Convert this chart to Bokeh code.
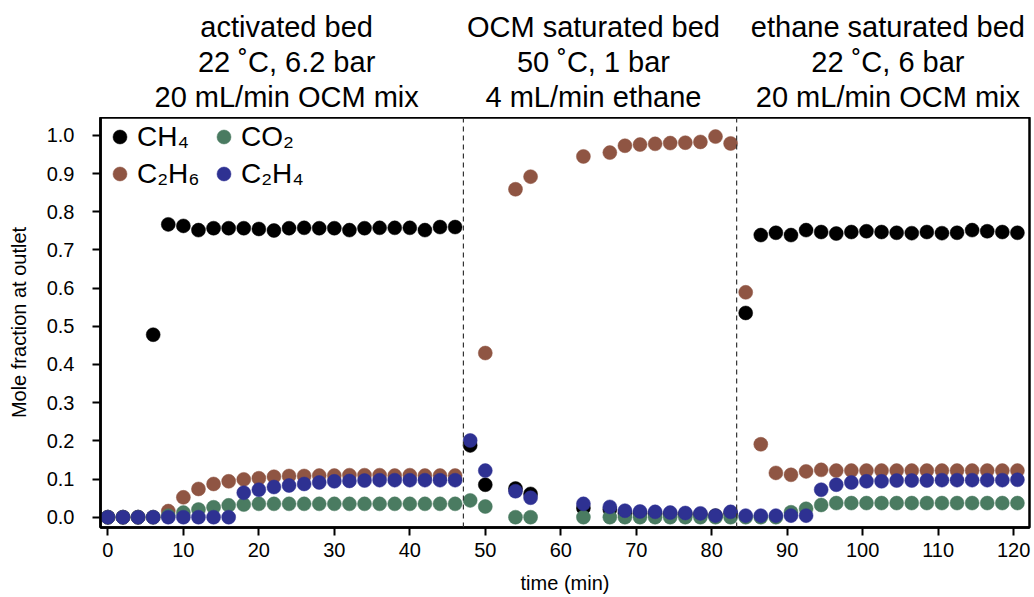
import math
from bokeh.plotting import figure
from bokeh.layouts import column
from bokeh.models import (Range1d, Span, Legend, LegendItem, FixedTicker,
                          PrintfTickFormatter, ColumnDataSource)
from bokeh.core.properties import value
from bokeh.embed import file_html
from bokeh.resources import INLINE

NaN = float("nan")

# ---------------- data ----------------
time_min = ([0, 2, 4, 6, 8, 10, 12, 14, 16, 18, 20, 22, 24, 26, 28, 30, 32, 34, 36, 38, 40, 42, 44, 46]
            + [48, 50, 54, 56, 63, 66.5, 68.5, 70.5, 72.5, 74.5, 76.5, 78.5, 80.5, 82.5]
            + [84.5, 86.5, 88.5, 90.5, 92.5, 94.5, 96.5, 98.5, 100.5, 102.5, 104.5, 106.5,
               108.5, 110.5, 112.5, 114.5, 116.5, 118.5, 120.5])

ch4 = ([0, 0, 0, 0.478, 0.767, 0.763, 0.752, 0.757, 0.757, 0.757, 0.755, 0.751, 0.757, 0.758,
        0.757, 0.757, 0.752, 0.757, 0.758, 0.758, 0.758, 0.752, 0.760, 0.760]
       + [0.188, 0.085, 0.075, 0.061, 0.024, 0.020, 0.010, 0.010, 0.009, 0.008, 0.008, 0.007,
          0.004, 0.010]
       + [0.535, 0.739, 0.745, 0.739, 0.752, 0.747, 0.743, 0.747, 0.749, 0.747, 0.745, 0.744,
          0.747, 0.744, 0.745, 0.752, 0.749, 0.747, 0.745])

c2h6 = ([0, 0, 0, 0, 0.016, 0.052, 0.074, 0.087, 0.094, 0.099, 0.102, 0.106, 0.108, 0.108,
         0.109, 0.109, 0.110, 0.110, 0.110, 0.109, 0.110, 0.109, 0.109, 0.109]
        + [NaN, 0.430, 0.859, 0.892, 0.945, 0.955, 0.973, 0.976, 0.978, 0.980, 0.981, 0.983,
           0.997, 0.979]
        + [0.589, 0.191, 0.116, 0.111, 0.120, 0.124, 0.122, 0.122, 0.122, 0.122, 0.122, 0.122,
           0.122, 0.122, 0.122, 0.122, 0.122, 0.122, 0.122])

co2 = ([0, 0, 0, 0, 0.004, 0.012, 0.020, 0.026, 0.031, 0.033, 0.035, 0.035, 0.035, 0.035,
        0.035, 0.035, 0.035, 0.035, 0.035, 0.035, 0.035, 0.035, 0.035, 0.035]
       + [0.044, 0.028, 0, 0, 0, 0, 0, 0, 0, 0, 0, 0, 0, 0]
       + [0, 0, 0, 0.013, 0.022, 0.032, 0.037, 0.037, 0.037, 0.037, 0.037, 0.037, 0.037,
          0.037, 0.037, 0.037, 0.037, 0.037, 0.037])

c2h4 = ([0, 0, 0, 0, 0, 0, 0, 0, 0, 0.064, 0.072, 0.079, 0.083, 0.087, 0.091, 0.094, 0.095,
         0.096, 0.097, 0.097, 0.097, 0.097, 0.097, 0.097]
        + [0.201, 0.122, 0.068, 0.051, 0.035, 0.027, 0.017, 0.015, 0.014, 0.012, 0.011, 0.010,
           0.004, 0.014]
        + [0.004, 0.004, 0.004, 0.004, 0.004, 0.072, 0.085, 0.091, 0.094, 0.094, 0.096, 0.096,
           0.096, 0.097, 0.097, 0.097, 0.097, 0.097, 0.098])

series_names = ["CH\u2084", "C\u2082H\u2086", "CO\u2082", "C\u2082H\u2084"]
series_colors = ["#000000", "#8f5543", "#4a7b61", "#2e3192"]

phase_boundaries = [47.1, 83.3]
phase_title_x = [23.8, 64.65, 103.85]
phase_line1 = ["activated bed", "OCM saturated bed", "ethane saturated bed"]
phase_line2 = ["22 \u02daC, 6.2 bar", "50 \u02daC, 1 bar", "22 \u02daC, 6 bar"]
phase_line3 = ["20 mL/min OCM mix", "4 mL/min ethane", "20 mL/min OCM mix"]

x_ticks = [0, 10, 20, 30, 40, 50, 60, 70, 80, 90, 100, 110, 120]
y_ticks = [0.0, 0.1, 0.2, 0.3, 0.4, 0.5, 0.6, 0.7, 0.8, 0.9, 1.0]

FONT = "Liberation Sans"

# ---------------- header (phase titles) ----------------
HEAD_H = 117
head = figure(width=1034, height=HEAD_H, output_backend="svg", toolbar_location=None,
              x_range=Range1d(-0.98, 122.70), y_range=Range1d(0, HEAD_H),
              min_border_left=100, min_border_right=0, min_border_top=0,
              min_border_bottom=0, border_fill_color="white",
              background_fill_color="white")
head.title.visible = False
head.axis.visible = False
head.grid.visible = False
head.outline_line_color = None
for line_text, base_from_top in zip([phase_line1, phase_line2, phase_line3], [26, 61, 96]):
    src = ColumnDataSource(dict(x=phase_title_x, y=[HEAD_H - base_from_top] * 3, t=line_text))
    head.text("x", "y", text="t", source=src, text_align="center",
              text_baseline="alphabetic", text_font=value(FONT),
              text_font_size="29px", text_color="black")

# ---------------- main figure ----------------
p = figure(width=1034, height=597 - HEAD_H, output_backend="svg", toolbar_location=None,
           x_range=Range1d(-0.98, 122.1), y_range=Range1d(-0.027, 1.047),
           min_border_left=100, min_border_right=5, min_border_top=0,
           min_border_bottom=70, background_fill_color="white",
           border_fill_color="white")
p.title.visible = False

p.xgrid.visible = False
p.ygrid.visible = False
p.outline_line_color = "black"
p.outline_line_width = 2.5
p.outline_line_alpha = 1.0

p.xaxis.ticker = FixedTicker(ticks=x_ticks)
p.yaxis.ticker = FixedTicker(ticks=y_ticks)
p.yaxis.formatter = PrintfTickFormatter(format="%.1f")
for ax in (p.xaxis, p.yaxis):
    ax.major_tick_out = 8
    ax.major_tick_in = 0
    ax.minor_tick_line_color = None
    ax.major_tick_line_width = 2
    ax.major_tick_line_color = "black"
    ax.axis_line_width = 2.5
    ax.axis_line_color = "black"
    ax.major_label_text_font = FONT
    ax.major_label_text_font_size = "20px"
    ax.major_label_text_color = "black"
    ax.axis_label_text_font = FONT
    ax.axis_label_text_font_size = "20px"
    ax.axis_label_text_font_style = "normal"
    ax.axis_label_text_color = "black"

p.xaxis.major_label_standoff = 7
p.yaxis.major_label_standoff = 18
p.xaxis.axis_label = "time (min)"
p.yaxis.axis_label = "Mole fraction at outlet"
p.xaxis.axis_label_standoff = 12
p.yaxis.axis_label_standoff = 14

for b in phase_boundaries:
    p.add_layout(Span(location=b, dimension="height", line_color="#333333",
                      line_width=1.2, line_dash="5 4"))

renderers = []
for name, vals, col in zip(series_names, [ch4, c2h6, co2, c2h4], series_colors):
    src = ColumnDataSource(dict(t=time_min, v=vals))
    r = p.scatter("t", "v", source=src, size=14, fill_color=col, line_color=col,
                  line_width=0.5)
    renderers.append(r)

legend = Legend(items=[LegendItem(label=n, renderers=[r]) for n, r in zip(series_names, renderers)],
                location="top_left", ncols=2, glyph_width=35, glyph_height=35,
                label_standoff=0, spacing=2, padding=0, margin=2, label_width=67,
                border_line_color=None, background_fill_alpha=0,
                label_text_font=FONT, label_text_font_size="28px",
                label_text_color="black", label_text_baseline="middle")
p.add_layout(legend, "center")

layout = column(head, p, spacing=0)
open("out.html", "w").write(file_html(layout, INLINE))
